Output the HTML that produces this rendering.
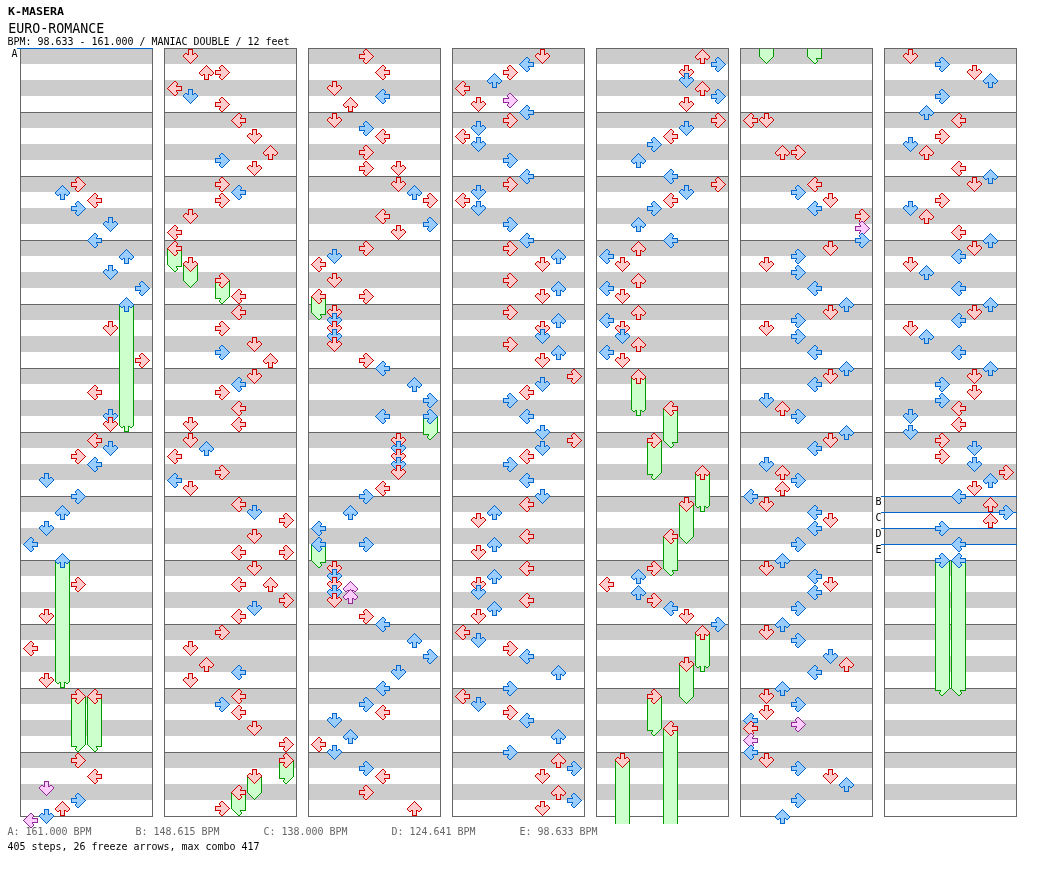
<!DOCTYPE html>
<html><head><meta charset="utf-8"><title>EURO-ROMANCE</title>
<style>html,body{margin:0;padding:0;background:#fff}svg{display:block;will-change:transform}text{font-family:"DejaVu Sans Mono","Liberation Mono",monospace;white-space:pre}.r{color:#cc0000;fill:#ffcccc}.b{color:#0066cc;fill:#99ccff}.m{color:#922a96;fill:#ffccff}.g{color:#009900;fill:#ccffcc}</style></head><body>
<svg width="1040" height="876" viewBox="0 0 1040 876" shape-rendering="crispEdges">
<defs>
<g id="aD"><path d="M6 1h3v1h-3zM6 2h3v1h-3zM6 3h3v1h-3zM6 4h3v1h-3zM2 5h2v1h-2zM6 5h3v1h-3zM11 5h2v1h-2zM1 6h13v1h-13zM1 7h13v1h-13zM2 8h11v1h-11zM3 9h9v1h-9zM4 10h7v1h-7zM5 11h5v1h-5zM6 12h3v1h-3zM7 13h1v1h-1z"/><path fill="currentColor" d="M5 0h5v1h-5zM5 1h1v1h-1zM9 1h1v1h-1zM5 2h1v1h-1zM9 2h1v1h-1zM5 3h1v1h-1zM9 3h1v1h-1zM2 4h2v1h-2zM5 4h1v1h-1zM9 4h1v1h-1zM11 4h2v1h-2zM1 5h1v1h-1zM4 5h2v1h-2zM9 5h2v1h-2zM13 5h1v1h-1zM0 6h1v1h-1zM14 6h1v1h-1zM0 7h1v1h-1zM14 7h1v1h-1zM1 8h1v1h-1zM13 8h1v1h-1zM2 9h1v1h-1zM12 9h1v1h-1zM3 10h1v1h-1zM11 10h1v1h-1zM4 11h1v1h-1zM10 11h1v1h-1zM5 12h1v1h-1zM9 12h1v1h-1zM6 13h1v1h-1zM8 13h1v1h-1zM7 14h1v1h-1z"/></g>
<g id="tD"><path d="M1 0h13v1h-13zM2 1h11v1h-11zM3 2h9v1h-9zM4 3h7v1h-7zM5 4h5v1h-5zM6 5h3v1h-3zM7 6h1v1h-1z"/><path fill="currentColor" d="M0 0h1v1h-1zM14 0h1v1h-1zM1 1h1v1h-1zM13 1h1v1h-1zM2 2h1v1h-1zM12 2h1v1h-1zM3 3h1v1h-1zM11 3h1v1h-1zM4 4h1v1h-1zM10 4h1v1h-1zM5 5h1v1h-1zM9 5h1v1h-1zM6 6h1v1h-1zM8 6h1v1h-1zM7 7h1v1h-1z"/></g>
<g id="aU"><path d="M7 1h1v1h-1zM6 2h3v1h-3zM5 3h5v1h-5zM4 4h7v1h-7zM3 5h9v1h-9zM2 6h11v1h-11zM1 7h13v1h-13zM1 8h13v1h-13zM2 9h2v1h-2zM6 9h3v1h-3zM11 9h2v1h-2zM6 10h3v1h-3zM6 11h3v1h-3zM6 12h3v1h-3zM6 13h3v1h-3z"/><path fill="currentColor" d="M7 0h1v1h-1zM6 1h1v1h-1zM8 1h1v1h-1zM5 2h1v1h-1zM9 2h1v1h-1zM4 3h1v1h-1zM10 3h1v1h-1zM3 4h1v1h-1zM11 4h1v1h-1zM2 5h1v1h-1zM12 5h1v1h-1zM1 6h1v1h-1zM13 6h1v1h-1zM0 7h1v1h-1zM14 7h1v1h-1zM0 8h1v1h-1zM14 8h1v1h-1zM1 9h1v1h-1zM4 9h2v1h-2zM9 9h2v1h-2zM13 9h1v1h-1zM2 10h2v1h-2zM5 10h1v1h-1zM9 10h1v1h-1zM11 10h2v1h-2zM5 11h1v1h-1zM9 11h1v1h-1zM5 12h1v1h-1zM9 12h1v1h-1zM5 13h1v1h-1zM9 13h1v1h-1zM5 14h5v1h-5z"/></g>
<g id="tU"><path d="M1 0h13v1h-13zM1 1h13v1h-13zM2 2h2v1h-2zM6 2h3v1h-3zM11 2h2v1h-2zM6 3h3v1h-3zM6 4h3v1h-3zM6 5h3v1h-3zM6 6h3v1h-3z"/><path fill="currentColor" d="M0 0h1v1h-1zM14 0h1v1h-1zM0 1h1v1h-1zM14 1h1v1h-1zM1 2h1v1h-1zM4 2h2v1h-2zM9 2h2v1h-2zM13 2h1v1h-1zM2 3h2v1h-2zM5 3h1v1h-1zM9 3h1v1h-1zM11 3h2v1h-2zM5 4h1v1h-1zM9 4h1v1h-1zM5 5h1v1h-1zM9 5h1v1h-1zM5 6h1v1h-1zM9 6h1v1h-1zM5 7h5v1h-5z"/></g>
<g id="aL"><path d="M7 1h2v1h-2zM6 2h4v1h-4zM5 3h5v1h-5zM4 4h5v1h-5zM3 5h6v1h-6zM2 6h12v1h-12zM1 7h13v1h-13zM2 8h12v1h-12zM3 9h6v1h-6zM4 10h5v1h-5zM5 11h5v1h-5zM6 12h4v1h-4zM7 13h2v1h-2z"/><path fill="currentColor" d="M7 0h2v1h-2zM6 1h1v1h-1zM9 1h1v1h-1zM5 2h1v1h-1zM10 2h1v1h-1zM4 3h1v1h-1zM10 3h1v1h-1zM3 4h1v1h-1zM9 4h1v1h-1zM2 5h1v1h-1zM9 5h6v1h-6zM1 6h1v1h-1zM14 6h1v1h-1zM0 7h1v1h-1zM14 7h1v1h-1zM1 8h1v1h-1zM14 8h1v1h-1zM2 9h1v1h-1zM9 9h6v1h-6zM3 10h1v1h-1zM9 10h1v1h-1zM4 11h1v1h-1zM10 11h1v1h-1zM5 12h1v1h-1zM10 12h1v1h-1zM6 13h1v1h-1zM9 13h1v1h-1zM7 14h2v1h-2z"/></g>
<g id="tL"><path d="M1 0h13v1h-13zM2 1h12v1h-12zM3 2h6v1h-6zM4 3h5v1h-5zM5 4h5v1h-5zM6 5h4v1h-4zM7 6h2v1h-2z"/><path fill="currentColor" d="M0 0h1v1h-1zM14 0h1v1h-1zM1 1h1v1h-1zM14 1h1v1h-1zM2 2h1v1h-1zM9 2h6v1h-6zM3 3h1v1h-1zM9 3h1v1h-1zM4 4h1v1h-1zM10 4h1v1h-1zM5 5h1v1h-1zM10 5h1v1h-1zM6 6h1v1h-1zM9 6h1v1h-1zM7 7h2v1h-2z"/></g>
<g id="aR"><path d="M6 1h2v1h-2zM5 2h4v1h-4zM5 3h5v1h-5zM6 4h5v1h-5zM6 5h6v1h-6zM1 6h12v1h-12zM1 7h13v1h-13zM1 8h12v1h-12zM6 9h6v1h-6zM6 10h5v1h-5zM5 11h5v1h-5zM5 12h4v1h-4zM6 13h2v1h-2z"/><path fill="currentColor" d="M6 0h2v1h-2zM5 1h1v1h-1zM8 1h1v1h-1zM4 2h1v1h-1zM9 2h1v1h-1zM4 3h1v1h-1zM10 3h1v1h-1zM5 4h1v1h-1zM11 4h1v1h-1zM0 5h6v1h-6zM12 5h1v1h-1zM0 6h1v1h-1zM13 6h1v1h-1zM0 7h1v1h-1zM14 7h1v1h-1zM0 8h1v1h-1zM13 8h1v1h-1zM0 9h6v1h-6zM12 9h1v1h-1zM5 10h1v1h-1zM11 10h1v1h-1zM4 11h1v1h-1zM10 11h1v1h-1zM4 12h1v1h-1zM9 12h1v1h-1zM5 13h1v1h-1zM8 13h1v1h-1zM6 14h2v1h-2z"/></g>
<g id="tR"><path d="M1 0h13v1h-13zM1 1h12v1h-12zM6 2h6v1h-6zM6 3h5v1h-5zM5 4h5v1h-5zM5 5h4v1h-4zM6 6h2v1h-2z"/><path fill="currentColor" d="M0 0h1v1h-1zM14 0h1v1h-1zM0 1h1v1h-1zM13 1h1v1h-1zM0 2h6v1h-6zM12 2h1v1h-1zM5 3h1v1h-1zM11 3h1v1h-1zM4 4h1v1h-1zM10 4h1v1h-1zM4 5h1v1h-1zM9 5h1v1h-1zM5 6h1v1h-1zM8 6h1v1h-1zM6 7h2v1h-2z"/></g>
</defs>
<rect width="1040" height="876" fill="#fff"/>
<path fill="#cccccc" d="M21 48h131v16h-131zM21 80h131v16h-131zM21 112h131v16h-131zM21 144h131v16h-131zM21 176h131v16h-131zM21 208h131v16h-131zM21 240h131v16h-131zM21 272h131v16h-131zM21 304h131v16h-131zM21 336h131v16h-131zM21 368h131v16h-131zM21 400h131v16h-131zM21 432h131v16h-131zM21 464h131v16h-131zM21 496h131v16h-131zM21 528h131v16h-131zM21 560h131v16h-131zM21 592h131v16h-131zM21 624h131v16h-131zM21 656h131v16h-131zM21 688h131v16h-131zM21 720h131v16h-131zM21 752h131v16h-131zM21 784h131v16h-131z"/>
<path fill="#666666" d="M20 48h133v1h-133zM20 112h133v1h-133zM20 176h133v1h-133zM20 240h133v1h-133zM20 304h133v1h-133zM20 368h133v1h-133zM20 432h133v1h-133zM20 496h133v1h-133zM20 560h133v1h-133zM20 624h133v1h-133zM20 688h133v1h-133zM20 752h133v1h-133zM20 816h133v1h-133zM20 48h1v769h-1zM152 48h1v769h-1z"/>
<path fill="#cccccc" d="M165 48h131v16h-131zM165 80h131v16h-131zM165 112h131v16h-131zM165 144h131v16h-131zM165 176h131v16h-131zM165 208h131v16h-131zM165 240h131v16h-131zM165 272h131v16h-131zM165 304h131v16h-131zM165 336h131v16h-131zM165 368h131v16h-131zM165 400h131v16h-131zM165 432h131v16h-131zM165 464h131v16h-131zM165 496h131v16h-131zM165 528h131v16h-131zM165 560h131v16h-131zM165 592h131v16h-131zM165 624h131v16h-131zM165 656h131v16h-131zM165 688h131v16h-131zM165 720h131v16h-131zM165 752h131v16h-131zM165 784h131v16h-131z"/>
<path fill="#666666" d="M164 48h133v1h-133zM164 112h133v1h-133zM164 176h133v1h-133zM164 240h133v1h-133zM164 304h133v1h-133zM164 368h133v1h-133zM164 432h133v1h-133zM164 496h133v1h-133zM164 560h133v1h-133zM164 624h133v1h-133zM164 688h133v1h-133zM164 752h133v1h-133zM164 816h133v1h-133zM164 48h1v769h-1zM296 48h1v769h-1z"/>
<path fill="#cccccc" d="M309 48h131v16h-131zM309 80h131v16h-131zM309 112h131v16h-131zM309 144h131v16h-131zM309 176h131v16h-131zM309 208h131v16h-131zM309 240h131v16h-131zM309 272h131v16h-131zM309 304h131v16h-131zM309 336h131v16h-131zM309 368h131v16h-131zM309 400h131v16h-131zM309 432h131v16h-131zM309 464h131v16h-131zM309 496h131v16h-131zM309 528h131v16h-131zM309 560h131v16h-131zM309 592h131v16h-131zM309 624h131v16h-131zM309 656h131v16h-131zM309 688h131v16h-131zM309 720h131v16h-131zM309 752h131v16h-131zM309 784h131v16h-131z"/>
<path fill="#666666" d="M308 48h133v1h-133zM308 112h133v1h-133zM308 176h133v1h-133zM308 240h133v1h-133zM308 304h133v1h-133zM308 368h133v1h-133zM308 432h133v1h-133zM308 496h133v1h-133zM308 560h133v1h-133zM308 624h133v1h-133zM308 688h133v1h-133zM308 752h133v1h-133zM308 816h133v1h-133zM308 48h1v769h-1zM440 48h1v769h-1z"/>
<path fill="#cccccc" d="M453 48h131v16h-131zM453 80h131v16h-131zM453 112h131v16h-131zM453 144h131v16h-131zM453 176h131v16h-131zM453 208h131v16h-131zM453 240h131v16h-131zM453 272h131v16h-131zM453 304h131v16h-131zM453 336h131v16h-131zM453 368h131v16h-131zM453 400h131v16h-131zM453 432h131v16h-131zM453 464h131v16h-131zM453 496h131v16h-131zM453 528h131v16h-131zM453 560h131v16h-131zM453 592h131v16h-131zM453 624h131v16h-131zM453 656h131v16h-131zM453 688h131v16h-131zM453 720h131v16h-131zM453 752h131v16h-131zM453 784h131v16h-131z"/>
<path fill="#666666" d="M452 48h133v1h-133zM452 112h133v1h-133zM452 176h133v1h-133zM452 240h133v1h-133zM452 304h133v1h-133zM452 368h133v1h-133zM452 432h133v1h-133zM452 496h133v1h-133zM452 560h133v1h-133zM452 624h133v1h-133zM452 688h133v1h-133zM452 752h133v1h-133zM452 816h133v1h-133zM452 48h1v769h-1zM584 48h1v769h-1z"/>
<path fill="#cccccc" d="M597 48h131v16h-131zM597 80h131v16h-131zM597 112h131v16h-131zM597 144h131v16h-131zM597 176h131v16h-131zM597 208h131v16h-131zM597 240h131v16h-131zM597 272h131v16h-131zM597 304h131v16h-131zM597 336h131v16h-131zM597 368h131v16h-131zM597 400h131v16h-131zM597 432h131v16h-131zM597 464h131v16h-131zM597 496h131v16h-131zM597 528h131v16h-131zM597 560h131v16h-131zM597 592h131v16h-131zM597 624h131v16h-131zM597 656h131v16h-131zM597 688h131v16h-131zM597 720h131v16h-131zM597 752h131v16h-131zM597 784h131v16h-131z"/>
<path fill="#666666" d="M596 48h133v1h-133zM596 112h133v1h-133zM596 176h133v1h-133zM596 240h133v1h-133zM596 304h133v1h-133zM596 368h133v1h-133zM596 432h133v1h-133zM596 496h133v1h-133zM596 560h133v1h-133zM596 624h133v1h-133zM596 688h133v1h-133zM596 752h133v1h-133zM596 816h133v1h-133zM596 48h1v769h-1zM728 48h1v769h-1z"/>
<path fill="#cccccc" d="M741 48h131v16h-131zM741 80h131v16h-131zM741 112h131v16h-131zM741 144h131v16h-131zM741 176h131v16h-131zM741 208h131v16h-131zM741 240h131v16h-131zM741 272h131v16h-131zM741 304h131v16h-131zM741 336h131v16h-131zM741 368h131v16h-131zM741 400h131v16h-131zM741 432h131v16h-131zM741 464h131v16h-131zM741 496h131v16h-131zM741 528h131v16h-131zM741 560h131v16h-131zM741 592h131v16h-131zM741 624h131v16h-131zM741 656h131v16h-131zM741 688h131v16h-131zM741 720h131v16h-131zM741 752h131v16h-131zM741 784h131v16h-131z"/>
<path fill="#666666" d="M740 48h133v1h-133zM740 112h133v1h-133zM740 176h133v1h-133zM740 240h133v1h-133zM740 304h133v1h-133zM740 368h133v1h-133zM740 432h133v1h-133zM740 496h133v1h-133zM740 560h133v1h-133zM740 624h133v1h-133zM740 688h133v1h-133zM740 752h133v1h-133zM740 816h133v1h-133zM740 48h1v769h-1zM872 48h1v769h-1z"/>
<path fill="#cccccc" d="M885 48h131v16h-131zM885 80h131v16h-131zM885 112h131v16h-131zM885 144h131v16h-131zM885 176h131v16h-131zM885 208h131v16h-131zM885 240h131v16h-131zM885 272h131v16h-131zM885 304h131v16h-131zM885 336h131v16h-131zM885 368h131v16h-131zM885 400h131v16h-131zM885 432h131v16h-131zM885 464h131v16h-131zM885 496h131v16h-131zM885 528h131v16h-131zM885 560h131v16h-131zM885 592h131v16h-131zM885 624h131v16h-131zM885 656h131v16h-131zM885 688h131v16h-131zM885 720h131v16h-131zM885 752h131v16h-131zM885 784h131v16h-131z"/>
<path fill="#666666" d="M884 48h133v1h-133zM884 112h133v1h-133zM884 176h133v1h-133zM884 240h133v1h-133zM884 304h133v1h-133zM884 368h133v1h-133zM884 432h133v1h-133zM884 496h133v1h-133zM884 560h133v1h-133zM884 624h133v1h-133zM884 688h133v1h-133zM884 752h133v1h-133zM884 816h133v1h-133zM884 48h1v769h-1zM1016 48h1v769h-1z"/>
<rect x="17" y="48" width="136" height="1" fill="#0066cc"/>
<text x="11.6" y="57" font-size="11" fill="#000" textLength="6" lengthAdjust="spacingAndGlyphs">A</text>
<rect x="881" y="496" width="136" height="1" fill="#0066cc"/>
<text x="875.6" y="505" font-size="11" fill="#000" textLength="6" lengthAdjust="spacingAndGlyphs">B</text>
<rect x="881" y="512" width="136" height="1" fill="#0066cc"/>
<text x="875.6" y="521" font-size="11" fill="#000" textLength="6" lengthAdjust="spacingAndGlyphs">C</text>
<rect x="881" y="528" width="136" height="1" fill="#0066cc"/>
<text x="875.6" y="537" font-size="11" fill="#000" textLength="6" lengthAdjust="spacingAndGlyphs">D</text>
<rect x="881" y="544" width="136" height="1" fill="#0066cc"/>
<text x="875.6" y="553" font-size="11" fill="#000" textLength="6" lengthAdjust="spacingAndGlyphs">E</text>
<path fill="#ccffcc" d="M120 304h13v120h-13z"/><path fill="#009900" d="M119 304h1v120h-1zM133 304h1v120h-1z"/>
<use href="#tU" x="119" y="424" class="g"/>
<path fill="#ccffcc" d="M56 560h13v120h-13z"/><path fill="#009900" d="M55 560h1v120h-1zM69 560h1v120h-1z"/>
<use href="#tU" x="55" y="680" class="g"/>
<path fill="#ccffcc" d="M72 696h13v48h-13z"/><path fill="#009900" d="M71 696h1v48h-1zM85 696h1v48h-1z"/>
<use href="#tR" x="71" y="744" class="g"/>
<path fill="#ccffcc" d="M88 696h13v48h-13z"/><path fill="#009900" d="M87 696h1v48h-1zM101 696h1v48h-1z"/>
<use href="#tL" x="87" y="744" class="g"/>
<use href="#aR" x="71" y="177" class="r"/>
<use href="#aU" x="55" y="185" class="b"/>
<use href="#aL" x="87" y="193" class="r"/>
<use href="#aR" x="71" y="201" class="b"/>
<use href="#aD" x="103" y="217" class="b"/>
<use href="#aL" x="87" y="233" class="b"/>
<use href="#aU" x="119" y="249" class="b"/>
<use href="#aD" x="103" y="265" class="b"/>
<use href="#aR" x="135" y="281" class="b"/>
<use href="#aU" x="119" y="297" class="b"/>
<use href="#aD" x="103" y="321" class="r"/>
<use href="#aR" x="135" y="353" class="r"/>
<use href="#aL" x="87" y="385" class="r"/>
<use href="#aD" x="103" y="409" class="b"/>
<use href="#aD" x="103" y="417" class="r"/>
<use href="#aL" x="87" y="433" class="r"/>
<use href="#aD" x="103" y="441" class="b"/>
<use href="#aR" x="71" y="449" class="r"/>
<use href="#aL" x="87" y="457" class="b"/>
<use href="#aD" x="39" y="473" class="b"/>
<use href="#aR" x="71" y="489" class="b"/>
<use href="#aU" x="55" y="505" class="b"/>
<use href="#aD" x="39" y="521" class="b"/>
<use href="#aL" x="23" y="537" class="b"/>
<use href="#aU" x="55" y="553" class="b"/>
<use href="#aR" x="71" y="577" class="r"/>
<use href="#aD" x="39" y="609" class="r"/>
<use href="#aL" x="23" y="641" class="r"/>
<use href="#aD" x="39" y="673" class="r"/>
<use href="#aR" x="71" y="689" class="r"/>
<use href="#aL" x="87" y="689" class="r"/>
<use href="#aR" x="71" y="753" class="r"/>
<use href="#aL" x="87" y="769" class="r"/>
<use href="#aD" x="39" y="781" class="m"/>
<use href="#aR" x="71" y="793" class="b"/>
<use href="#aU" x="55" y="801" class="r"/>
<use href="#aD" x="39" y="809" class="b"/>
<use href="#aL" x="23" y="813" class="m"/>
<path fill="#ccffcc" d="M168 248h13v16h-13z"/><path fill="#009900" d="M167 248h1v16h-1zM181 248h1v16h-1z"/>
<use href="#tL" x="167" y="264" class="g"/>
<path fill="#ccffcc" d="M184 264h13v16h-13z"/><path fill="#009900" d="M183 264h1v16h-1zM197 264h1v16h-1z"/>
<use href="#tD" x="183" y="280" class="g"/>
<path fill="#ccffcc" d="M216 280h13v16h-13z"/><path fill="#009900" d="M215 280h1v16h-1zM229 280h1v16h-1z"/>
<use href="#tR" x="215" y="296" class="g"/>
<path fill="#ccffcc" d="M280 760h13v16h-13z"/><path fill="#009900" d="M279 760h1v16h-1zM293 760h1v16h-1z"/>
<use href="#tR" x="279" y="776" class="g"/>
<path fill="#ccffcc" d="M248 776h13v16h-13z"/><path fill="#009900" d="M247 776h1v16h-1zM261 776h1v16h-1z"/>
<use href="#tD" x="247" y="792" class="g"/>
<path fill="#ccffcc" d="M232 792h13v16h-13z"/><path fill="#009900" d="M231 792h1v16h-1zM245 792h1v16h-1z"/>
<use href="#tL" x="231" y="808" class="g"/>
<use href="#aD" x="183" y="49" class="r"/>
<use href="#aU" x="199" y="65" class="r"/>
<use href="#aR" x="215" y="65" class="r"/>
<use href="#aL" x="167" y="81" class="r"/>
<use href="#aD" x="183" y="89" class="b"/>
<use href="#aR" x="215" y="97" class="r"/>
<use href="#aL" x="231" y="113" class="r"/>
<use href="#aD" x="247" y="129" class="r"/>
<use href="#aU" x="263" y="145" class="r"/>
<use href="#aR" x="215" y="153" class="b"/>
<use href="#aD" x="247" y="161" class="r"/>
<use href="#aR" x="215" y="177" class="r"/>
<use href="#aL" x="231" y="185" class="b"/>
<use href="#aR" x="215" y="193" class="r"/>
<use href="#aD" x="183" y="209" class="r"/>
<use href="#aL" x="167" y="225" class="r"/>
<use href="#aL" x="167" y="241" class="r"/>
<use href="#aD" x="183" y="257" class="r"/>
<use href="#aR" x="215" y="273" class="r"/>
<use href="#aL" x="231" y="289" class="r"/>
<use href="#aL" x="231" y="305" class="r"/>
<use href="#aR" x="215" y="321" class="r"/>
<use href="#aD" x="247" y="337" class="r"/>
<use href="#aR" x="215" y="345" class="b"/>
<use href="#aU" x="263" y="353" class="r"/>
<use href="#aD" x="247" y="369" class="r"/>
<use href="#aL" x="231" y="377" class="b"/>
<use href="#aR" x="215" y="385" class="r"/>
<use href="#aL" x="231" y="401" class="r"/>
<use href="#aD" x="183" y="417" class="r"/>
<use href="#aL" x="231" y="417" class="r"/>
<use href="#aD" x="183" y="433" class="r"/>
<use href="#aU" x="199" y="441" class="b"/>
<use href="#aL" x="167" y="449" class="r"/>
<use href="#aR" x="215" y="465" class="r"/>
<use href="#aL" x="167" y="473" class="b"/>
<use href="#aD" x="183" y="481" class="r"/>
<use href="#aL" x="231" y="497" class="r"/>
<use href="#aD" x="247" y="505" class="b"/>
<use href="#aR" x="279" y="513" class="r"/>
<use href="#aD" x="247" y="529" class="r"/>
<use href="#aL" x="231" y="545" class="r"/>
<use href="#aR" x="279" y="545" class="r"/>
<use href="#aD" x="247" y="561" class="r"/>
<use href="#aL" x="231" y="577" class="r"/>
<use href="#aU" x="263" y="577" class="r"/>
<use href="#aR" x="279" y="593" class="r"/>
<use href="#aD" x="247" y="601" class="b"/>
<use href="#aL" x="231" y="609" class="r"/>
<use href="#aR" x="215" y="625" class="r"/>
<use href="#aD" x="183" y="641" class="r"/>
<use href="#aU" x="199" y="657" class="r"/>
<use href="#aL" x="231" y="665" class="b"/>
<use href="#aD" x="183" y="673" class="r"/>
<use href="#aL" x="231" y="689" class="r"/>
<use href="#aR" x="215" y="697" class="b"/>
<use href="#aL" x="231" y="705" class="r"/>
<use href="#aD" x="247" y="721" class="r"/>
<use href="#aR" x="279" y="737" class="r"/>
<use href="#aR" x="279" y="753" class="r"/>
<use href="#aD" x="247" y="769" class="r"/>
<use href="#aL" x="231" y="785" class="r"/>
<use href="#aR" x="215" y="801" class="r"/>
<path fill="#ccffcc" d="M312 296h13v16h-13z"/><path fill="#009900" d="M311 296h1v16h-1zM325 296h1v16h-1z"/>
<use href="#tL" x="311" y="312" class="g"/>
<path fill="#ccffcc" d="M424 416h13v16h-13z"/><path fill="#009900" d="M423 416h1v16h-1zM437 416h1v16h-1z"/>
<use href="#tR" x="423" y="432" class="g"/>
<path fill="#ccffcc" d="M312 544h13v16h-13z"/><path fill="#009900" d="M311 544h1v16h-1zM325 544h1v16h-1z"/>
<use href="#tL" x="311" y="560" class="g"/>
<use href="#aR" x="359" y="49" class="r"/>
<use href="#aL" x="375" y="65" class="r"/>
<use href="#aD" x="327" y="81" class="r"/>
<use href="#aL" x="375" y="89" class="b"/>
<use href="#aU" x="343" y="97" class="r"/>
<use href="#aD" x="327" y="113" class="r"/>
<use href="#aR" x="359" y="121" class="b"/>
<use href="#aL" x="375" y="129" class="r"/>
<use href="#aR" x="359" y="145" class="r"/>
<use href="#aR" x="359" y="161" class="r"/>
<use href="#aD" x="391" y="161" class="r"/>
<use href="#aD" x="391" y="177" class="r"/>
<use href="#aU" x="407" y="185" class="b"/>
<use href="#aR" x="423" y="193" class="r"/>
<use href="#aL" x="375" y="209" class="r"/>
<use href="#aR" x="423" y="217" class="b"/>
<use href="#aD" x="391" y="225" class="r"/>
<use href="#aR" x="359" y="241" class="r"/>
<use href="#aD" x="327" y="249" class="b"/>
<use href="#aL" x="311" y="257" class="r"/>
<use href="#aD" x="327" y="273" class="r"/>
<use href="#aL" x="311" y="289" class="r"/>
<use href="#aR" x="359" y="289" class="r"/>
<use href="#aD" x="327" y="305" class="r"/>
<use href="#aD" x="327" y="313" class="b"/>
<use href="#aD" x="327" y="321" class="r"/>
<use href="#aD" x="327" y="329" class="b"/>
<use href="#aD" x="327" y="337" class="r"/>
<use href="#aR" x="359" y="353" class="r"/>
<use href="#aL" x="375" y="361" class="b"/>
<use href="#aU" x="407" y="377" class="b"/>
<use href="#aR" x="423" y="393" class="b"/>
<use href="#aL" x="375" y="409" class="b"/>
<use href="#aR" x="423" y="409" class="b"/>
<use href="#aD" x="391" y="433" class="r"/>
<use href="#aD" x="391" y="441" class="b"/>
<use href="#aD" x="391" y="449" class="r"/>
<use href="#aD" x="391" y="457" class="b"/>
<use href="#aD" x="391" y="465" class="r"/>
<use href="#aL" x="375" y="481" class="r"/>
<use href="#aR" x="359" y="489" class="b"/>
<use href="#aU" x="343" y="505" class="b"/>
<use href="#aL" x="311" y="521" class="b"/>
<use href="#aL" x="311" y="537" class="b"/>
<use href="#aR" x="359" y="537" class="b"/>
<use href="#aD" x="327" y="561" class="r"/>
<use href="#aD" x="327" y="569" class="b"/>
<use href="#aD" x="327" y="577" class="r"/>
<use href="#aU" x="343" y="581" class="m"/>
<use href="#aD" x="327" y="585" class="b"/>
<use href="#aU" x="343" y="589" class="m"/>
<use href="#aD" x="327" y="593" class="r"/>
<use href="#aR" x="359" y="609" class="r"/>
<use href="#aL" x="375" y="617" class="b"/>
<use href="#aU" x="407" y="633" class="b"/>
<use href="#aR" x="423" y="649" class="b"/>
<use href="#aD" x="391" y="665" class="b"/>
<use href="#aL" x="375" y="681" class="b"/>
<use href="#aR" x="359" y="697" class="b"/>
<use href="#aL" x="375" y="705" class="r"/>
<use href="#aD" x="327" y="713" class="b"/>
<use href="#aU" x="343" y="729" class="b"/>
<use href="#aL" x="311" y="737" class="r"/>
<use href="#aD" x="327" y="745" class="b"/>
<use href="#aR" x="359" y="761" class="b"/>
<use href="#aL" x="375" y="769" class="r"/>
<use href="#aR" x="359" y="785" class="r"/>
<use href="#aU" x="407" y="801" class="r"/>
<use href="#aD" x="535" y="49" class="r"/>
<use href="#aL" x="519" y="57" class="b"/>
<use href="#aR" x="503" y="65" class="r"/>
<use href="#aU" x="487" y="73" class="b"/>
<use href="#aL" x="455" y="81" class="r"/>
<use href="#aR" x="503" y="93" class="m"/>
<use href="#aD" x="471" y="97" class="r"/>
<use href="#aL" x="519" y="105" class="b"/>
<use href="#aR" x="503" y="113" class="r"/>
<use href="#aD" x="471" y="121" class="b"/>
<use href="#aL" x="455" y="129" class="r"/>
<use href="#aD" x="471" y="137" class="b"/>
<use href="#aR" x="503" y="153" class="b"/>
<use href="#aL" x="519" y="169" class="b"/>
<use href="#aR" x="503" y="177" class="r"/>
<use href="#aD" x="471" y="185" class="b"/>
<use href="#aL" x="455" y="193" class="r"/>
<use href="#aD" x="471" y="201" class="b"/>
<use href="#aR" x="503" y="217" class="b"/>
<use href="#aL" x="519" y="233" class="b"/>
<use href="#aR" x="503" y="241" class="r"/>
<use href="#aU" x="551" y="249" class="b"/>
<use href="#aD" x="535" y="257" class="r"/>
<use href="#aR" x="503" y="273" class="r"/>
<use href="#aU" x="551" y="281" class="b"/>
<use href="#aD" x="535" y="289" class="r"/>
<use href="#aR" x="503" y="305" class="r"/>
<use href="#aU" x="551" y="313" class="b"/>
<use href="#aD" x="535" y="321" class="r"/>
<use href="#aD" x="535" y="329" class="b"/>
<use href="#aR" x="503" y="337" class="r"/>
<use href="#aU" x="551" y="345" class="b"/>
<use href="#aD" x="535" y="353" class="r"/>
<use href="#aR" x="567" y="369" class="r"/>
<use href="#aD" x="535" y="377" class="b"/>
<use href="#aL" x="519" y="385" class="r"/>
<use href="#aR" x="503" y="393" class="b"/>
<use href="#aL" x="519" y="409" class="b"/>
<use href="#aD" x="535" y="425" class="b"/>
<use href="#aR" x="567" y="433" class="r"/>
<use href="#aD" x="535" y="441" class="b"/>
<use href="#aL" x="519" y="449" class="r"/>
<use href="#aR" x="503" y="457" class="b"/>
<use href="#aL" x="519" y="473" class="b"/>
<use href="#aD" x="535" y="489" class="b"/>
<use href="#aL" x="519" y="497" class="r"/>
<use href="#aU" x="487" y="505" class="b"/>
<use href="#aD" x="471" y="513" class="r"/>
<use href="#aL" x="519" y="529" class="r"/>
<use href="#aU" x="487" y="537" class="b"/>
<use href="#aD" x="471" y="545" class="r"/>
<use href="#aL" x="519" y="561" class="r"/>
<use href="#aU" x="487" y="569" class="b"/>
<use href="#aD" x="471" y="577" class="r"/>
<use href="#aD" x="471" y="585" class="b"/>
<use href="#aL" x="519" y="593" class="r"/>
<use href="#aU" x="487" y="601" class="b"/>
<use href="#aD" x="471" y="609" class="r"/>
<use href="#aL" x="455" y="625" class="r"/>
<use href="#aD" x="471" y="633" class="b"/>
<use href="#aR" x="503" y="641" class="r"/>
<use href="#aL" x="519" y="649" class="b"/>
<use href="#aU" x="551" y="665" class="b"/>
<use href="#aR" x="503" y="681" class="b"/>
<use href="#aL" x="455" y="689" class="r"/>
<use href="#aD" x="471" y="697" class="b"/>
<use href="#aR" x="503" y="705" class="r"/>
<use href="#aL" x="519" y="713" class="b"/>
<use href="#aU" x="551" y="729" class="b"/>
<use href="#aR" x="503" y="745" class="b"/>
<use href="#aU" x="551" y="753" class="r"/>
<use href="#aR" x="567" y="761" class="b"/>
<use href="#aD" x="535" y="769" class="r"/>
<use href="#aU" x="551" y="785" class="r"/>
<use href="#aR" x="567" y="793" class="b"/>
<use href="#aD" x="535" y="801" class="r"/>
<path fill="#ccffcc" d="M632 376h13v32h-13z"/><path fill="#009900" d="M631 376h1v32h-1zM645 376h1v32h-1z"/>
<use href="#tU" x="631" y="408" class="g"/>
<path fill="#ccffcc" d="M664 408h13v32h-13z"/><path fill="#009900" d="M663 408h1v32h-1zM677 408h1v32h-1z"/>
<use href="#tL" x="663" y="440" class="g"/>
<path fill="#ccffcc" d="M648 440h13v32h-13z"/><path fill="#009900" d="M647 440h1v32h-1zM661 440h1v32h-1z"/>
<use href="#tR" x="647" y="472" class="g"/>
<path fill="#ccffcc" d="M696 472h13v32h-13z"/><path fill="#009900" d="M695 472h1v32h-1zM709 472h1v32h-1z"/>
<use href="#tU" x="695" y="504" class="g"/>
<path fill="#ccffcc" d="M680 504h13v32h-13z"/><path fill="#009900" d="M679 504h1v32h-1zM693 504h1v32h-1z"/>
<use href="#tD" x="679" y="536" class="g"/>
<path fill="#ccffcc" d="M664 536h13v32h-13z"/><path fill="#009900" d="M663 536h1v32h-1zM677 536h1v32h-1z"/>
<use href="#tL" x="663" y="568" class="g"/>
<path fill="#ccffcc" d="M696 632h13v32h-13z"/><path fill="#009900" d="M695 632h1v32h-1zM709 632h1v32h-1z"/>
<use href="#tU" x="695" y="664" class="g"/>
<path fill="#ccffcc" d="M680 664h13v32h-13z"/><path fill="#009900" d="M679 664h1v32h-1zM693 664h1v32h-1z"/>
<use href="#tD" x="679" y="696" class="g"/>
<path fill="#ccffcc" d="M648 696h13v32h-13z"/><path fill="#009900" d="M647 696h1v32h-1zM661 696h1v32h-1z"/>
<use href="#tR" x="647" y="728" class="g"/>
<path fill="#ccffcc" d="M664 728h13v96h-13z"/><path fill="#009900" d="M663 728h1v96h-1zM677 728h1v96h-1z"/>
<path fill="#ccffcc" d="M616 760h13v64h-13z"/><path fill="#009900" d="M615 760h1v64h-1zM629 760h1v64h-1z"/>
<use href="#aU" x="695" y="49" class="r"/>
<use href="#aR" x="711" y="57" class="b"/>
<use href="#aD" x="679" y="65" class="r"/>
<use href="#aD" x="679" y="73" class="b"/>
<use href="#aU" x="695" y="81" class="r"/>
<use href="#aR" x="711" y="89" class="b"/>
<use href="#aD" x="679" y="97" class="r"/>
<use href="#aR" x="711" y="113" class="r"/>
<use href="#aD" x="679" y="121" class="b"/>
<use href="#aL" x="663" y="129" class="r"/>
<use href="#aR" x="647" y="137" class="b"/>
<use href="#aU" x="631" y="153" class="b"/>
<use href="#aL" x="663" y="169" class="b"/>
<use href="#aR" x="711" y="177" class="r"/>
<use href="#aD" x="679" y="185" class="b"/>
<use href="#aL" x="663" y="193" class="r"/>
<use href="#aR" x="647" y="201" class="b"/>
<use href="#aU" x="631" y="217" class="b"/>
<use href="#aL" x="663" y="233" class="b"/>
<use href="#aU" x="631" y="241" class="r"/>
<use href="#aL" x="599" y="249" class="b"/>
<use href="#aD" x="615" y="257" class="r"/>
<use href="#aU" x="631" y="273" class="r"/>
<use href="#aL" x="599" y="281" class="b"/>
<use href="#aD" x="615" y="289" class="r"/>
<use href="#aU" x="631" y="305" class="r"/>
<use href="#aL" x="599" y="313" class="b"/>
<use href="#aD" x="615" y="321" class="r"/>
<use href="#aD" x="615" y="329" class="b"/>
<use href="#aU" x="631" y="337" class="r"/>
<use href="#aL" x="599" y="345" class="b"/>
<use href="#aD" x="615" y="353" class="r"/>
<use href="#aU" x="631" y="369" class="r"/>
<use href="#aL" x="663" y="401" class="r"/>
<use href="#aR" x="647" y="433" class="r"/>
<use href="#aU" x="695" y="465" class="r"/>
<use href="#aD" x="679" y="497" class="r"/>
<use href="#aL" x="663" y="529" class="r"/>
<use href="#aR" x="647" y="561" class="r"/>
<use href="#aU" x="631" y="569" class="b"/>
<use href="#aL" x="599" y="577" class="r"/>
<use href="#aU" x="631" y="585" class="b"/>
<use href="#aR" x="647" y="593" class="r"/>
<use href="#aL" x="663" y="601" class="b"/>
<use href="#aD" x="679" y="609" class="r"/>
<use href="#aR" x="711" y="617" class="b"/>
<use href="#aU" x="695" y="625" class="r"/>
<use href="#aD" x="679" y="657" class="r"/>
<use href="#aR" x="647" y="689" class="r"/>
<use href="#aL" x="663" y="721" class="r"/>
<use href="#aD" x="615" y="753" class="r"/>
<path fill="#ccffcc" d="M760 49h13v7h-13z"/><path fill="#009900" d="M759 49h1v7h-1zM773 49h1v7h-1z"/>
<use href="#tD" x="759" y="56" class="g"/>
<path fill="#ccffcc" d="M808 49h13v7h-13z"/><path fill="#009900" d="M807 49h1v7h-1zM821 49h1v7h-1z"/>
<use href="#tL" x="807" y="56" class="g"/>
<use href="#aL" x="743" y="113" class="r"/>
<use href="#aD" x="759" y="113" class="r"/>
<use href="#aU" x="775" y="145" class="r"/>
<use href="#aR" x="791" y="145" class="r"/>
<use href="#aL" x="807" y="177" class="r"/>
<use href="#aR" x="791" y="185" class="b"/>
<use href="#aD" x="823" y="193" class="r"/>
<use href="#aL" x="807" y="201" class="b"/>
<use href="#aR" x="855" y="209" class="r"/>
<use href="#aR" x="855" y="221" class="m"/>
<use href="#aR" x="855" y="233" class="b"/>
<use href="#aD" x="823" y="241" class="r"/>
<use href="#aR" x="791" y="249" class="b"/>
<use href="#aD" x="759" y="257" class="r"/>
<use href="#aR" x="791" y="265" class="b"/>
<use href="#aL" x="807" y="281" class="b"/>
<use href="#aU" x="839" y="297" class="b"/>
<use href="#aD" x="823" y="305" class="r"/>
<use href="#aR" x="791" y="313" class="b"/>
<use href="#aD" x="759" y="321" class="r"/>
<use href="#aR" x="791" y="329" class="b"/>
<use href="#aL" x="807" y="345" class="b"/>
<use href="#aU" x="839" y="361" class="b"/>
<use href="#aD" x="823" y="369" class="r"/>
<use href="#aL" x="807" y="377" class="b"/>
<use href="#aD" x="759" y="393" class="b"/>
<use href="#aU" x="775" y="401" class="r"/>
<use href="#aR" x="791" y="409" class="b"/>
<use href="#aU" x="839" y="425" class="b"/>
<use href="#aD" x="823" y="433" class="r"/>
<use href="#aL" x="807" y="441" class="b"/>
<use href="#aD" x="759" y="457" class="b"/>
<use href="#aU" x="775" y="465" class="r"/>
<use href="#aR" x="791" y="473" class="b"/>
<use href="#aU" x="775" y="481" class="r"/>
<use href="#aL" x="743" y="489" class="b"/>
<use href="#aD" x="759" y="497" class="r"/>
<use href="#aL" x="807" y="505" class="b"/>
<use href="#aD" x="823" y="513" class="r"/>
<use href="#aL" x="807" y="521" class="b"/>
<use href="#aR" x="791" y="537" class="b"/>
<use href="#aU" x="775" y="553" class="b"/>
<use href="#aD" x="759" y="561" class="r"/>
<use href="#aL" x="807" y="569" class="b"/>
<use href="#aD" x="823" y="577" class="r"/>
<use href="#aL" x="807" y="585" class="b"/>
<use href="#aR" x="791" y="601" class="b"/>
<use href="#aU" x="775" y="617" class="b"/>
<use href="#aD" x="759" y="625" class="r"/>
<use href="#aR" x="791" y="633" class="b"/>
<use href="#aD" x="823" y="649" class="b"/>
<use href="#aU" x="839" y="657" class="r"/>
<use href="#aL" x="807" y="665" class="b"/>
<use href="#aU" x="775" y="681" class="b"/>
<use href="#aD" x="759" y="689" class="r"/>
<use href="#aR" x="791" y="697" class="b"/>
<use href="#aD" x="759" y="705" class="r"/>
<use href="#aL" x="743" y="713" class="b"/>
<use href="#aR" x="791" y="717" class="m"/>
<use href="#aL" x="743" y="721" class="r"/>
<use href="#aL" x="743" y="733" class="m"/>
<use href="#aL" x="743" y="745" class="b"/>
<use href="#aD" x="759" y="753" class="r"/>
<use href="#aR" x="791" y="761" class="b"/>
<use href="#aD" x="823" y="769" class="r"/>
<use href="#aU" x="839" y="777" class="b"/>
<use href="#aR" x="791" y="793" class="b"/>
<use href="#aU" x="775" y="809" class="b"/>
<path fill="#ccffcc" d="M936 560h13v128h-13z"/><path fill="#009900" d="M935 560h1v128h-1zM949 560h1v128h-1z"/>
<use href="#tR" x="935" y="688" class="g"/>
<path fill="#ccffcc" d="M952 560h13v128h-13z"/><path fill="#009900" d="M951 560h1v128h-1zM965 560h1v128h-1z"/>
<use href="#tL" x="951" y="688" class="g"/>
<use href="#aD" x="903" y="49" class="r"/>
<use href="#aR" x="935" y="57" class="b"/>
<use href="#aD" x="967" y="65" class="r"/>
<use href="#aU" x="983" y="73" class="b"/>
<use href="#aR" x="935" y="89" class="b"/>
<use href="#aU" x="919" y="105" class="b"/>
<use href="#aL" x="951" y="113" class="r"/>
<use href="#aR" x="935" y="129" class="r"/>
<use href="#aD" x="903" y="137" class="b"/>
<use href="#aU" x="919" y="145" class="r"/>
<use href="#aL" x="951" y="161" class="r"/>
<use href="#aU" x="983" y="169" class="b"/>
<use href="#aD" x="967" y="177" class="r"/>
<use href="#aR" x="935" y="193" class="r"/>
<use href="#aD" x="903" y="201" class="b"/>
<use href="#aU" x="919" y="209" class="r"/>
<use href="#aL" x="951" y="225" class="r"/>
<use href="#aU" x="983" y="233" class="b"/>
<use href="#aD" x="967" y="241" class="r"/>
<use href="#aL" x="951" y="249" class="b"/>
<use href="#aD" x="903" y="257" class="r"/>
<use href="#aU" x="919" y="265" class="b"/>
<use href="#aL" x="951" y="281" class="b"/>
<use href="#aU" x="983" y="297" class="b"/>
<use href="#aD" x="967" y="305" class="r"/>
<use href="#aL" x="951" y="313" class="b"/>
<use href="#aD" x="903" y="321" class="r"/>
<use href="#aU" x="919" y="329" class="b"/>
<use href="#aL" x="951" y="345" class="b"/>
<use href="#aU" x="983" y="361" class="b"/>
<use href="#aD" x="967" y="369" class="r"/>
<use href="#aR" x="935" y="377" class="b"/>
<use href="#aD" x="967" y="385" class="r"/>
<use href="#aR" x="935" y="393" class="b"/>
<use href="#aL" x="951" y="401" class="r"/>
<use href="#aD" x="903" y="409" class="b"/>
<use href="#aL" x="951" y="417" class="r"/>
<use href="#aD" x="903" y="425" class="b"/>
<use href="#aR" x="935" y="433" class="r"/>
<use href="#aD" x="967" y="441" class="b"/>
<use href="#aR" x="935" y="449" class="r"/>
<use href="#aD" x="967" y="457" class="b"/>
<use href="#aR" x="999" y="465" class="r"/>
<use href="#aU" x="983" y="473" class="b"/>
<use href="#aD" x="967" y="481" class="r"/>
<use href="#aL" x="951" y="489" class="b"/>
<use href="#aU" x="983" y="497" class="r"/>
<use href="#aR" x="999" y="505" class="b"/>
<use href="#aU" x="983" y="513" class="r"/>
<use href="#aR" x="935" y="521" class="b"/>
<use href="#aL" x="951" y="537" class="b"/>
<use href="#aR" x="935" y="553" class="b"/>
<use href="#aL" x="951" y="553" class="b"/>
<text x="8" y="15" font-size="11" fill="#000" font-weight="bold" textLength="56" lengthAdjust="spacingAndGlyphs">K-MASERA</text>
<text x="8.3" y="33" font-size="13.7" fill="#000" textLength="96" lengthAdjust="spacingAndGlyphs">EURO-ROMANCE</text>
<text x="7.6" y="45" font-size="11" fill="#000" textLength="282" lengthAdjust="spacingAndGlyphs">BPM: 98.633 - 161.000 / MANIAC DOUBLE / 12 feet</text>
<text x="7.6" y="835" font-size="11" fill="#666666" textLength="84" lengthAdjust="spacingAndGlyphs">A: 161.000 BPM</text>
<text x="135.6" y="835" font-size="11" fill="#666666" textLength="84" lengthAdjust="spacingAndGlyphs">B: 148.615 BPM</text>
<text x="263.6" y="835" font-size="11" fill="#666666" textLength="84" lengthAdjust="spacingAndGlyphs">C: 138.000 BPM</text>
<text x="391.6" y="835" font-size="11" fill="#666666" textLength="84" lengthAdjust="spacingAndGlyphs">D: 124.641 BPM</text>
<text x="519.6" y="835" font-size="11" fill="#666666" textLength="78" lengthAdjust="spacingAndGlyphs">E: 98.633 BPM</text>
<text x="7.6" y="850" font-size="11" fill="#000" textLength="252" lengthAdjust="spacingAndGlyphs">405 steps, 26 freeze arrows, max combo 417</text>
</svg></body></html>
